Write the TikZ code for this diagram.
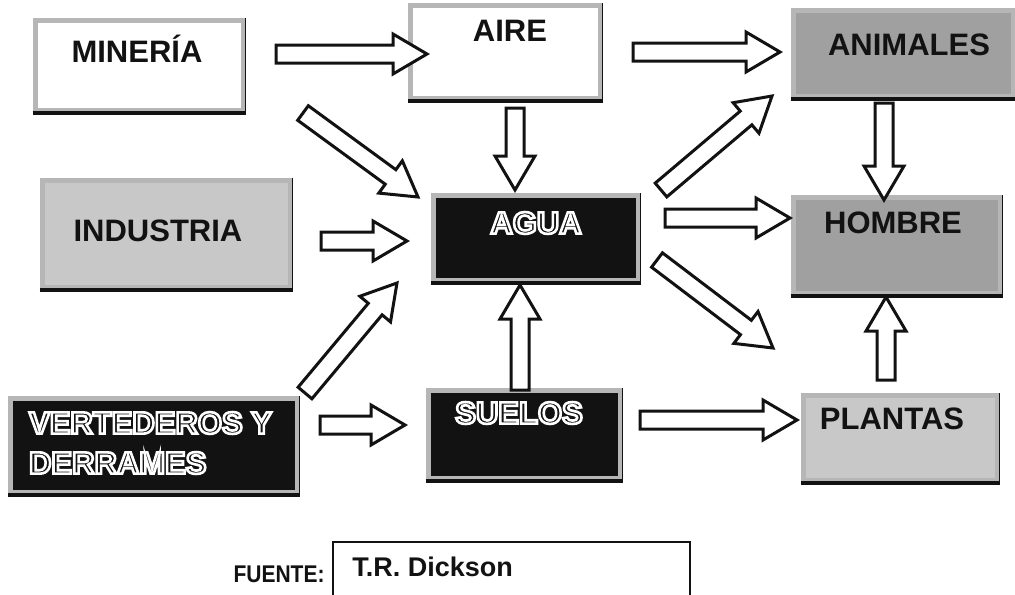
\documentclass[tikz,border=0pt]{standalone}
\usepackage{fontspec}
\setmainfont{Liberation Sans}
\usetikzlibrary{calc,fit}
\definecolor{rim}{RGB}{182,182,182}
\definecolor{gmed}{RGB}{160,160,160}
\definecolor{glight}{RGB}{200,200,200}
\definecolor{ink}{RGB}{18,18,18}

% hollow letters: black fill, white outline
\newcommand{\hueco}[1]{\special{pdf:literal q 2 Tr 1.3 w 1 G}#1\special{pdf:literal Q}}

% block arrow from a tail coordinate to a tip coordinate
\newcommand{\flecha}[2]{%
  \coordinate (hb) at ($(#2)!\largoP!(#1)$);
  \draw[flechaB] ($(#1)!\anchoC!90:(#2)$) -- ($(hb)!\anchoC!-90:(#1)$)
    -- ($(hb)!\anchoP!-90:(#1)$) -- (#2) -- ($(hb)!\anchoP!90:(#1)$)
    -- ($(hb)!\anchoC!90:(#1)$) -- ($(#1)!\anchoC!-90:(#2)$) -- cycle;}

\begin{document}
\begin{tikzpicture}[x=0.5pt, y=-0.5pt,
    caja/.style={rectangle, draw=rim, line width=2.5pt, inner sep=0pt},
    sombra/.style={draw=ink, line width=2pt},
    rot/.style={font=\fontsize{15.5}{20}\selectfont\bfseries, text=ink},
    rotB/.style={font=\fontsize{15.5}{20}\selectfont\bfseries, text=ink},
    flechaB/.style={draw=ink, fill=white, line width=1.5pt, line join=miter},
    marco/.style={rectangle, draw=ink, line width=0.8pt, inner sep=0pt}]
  \def\anchoC{4.5pt}
  \def\anchoP{10pt}
  \def\largoP{17pt}
  \useasboundingbox (0,0) rectangle (1015,594);

  % ---------- boxes ---------------------------------------------------------
  \foreach \n/\xa/\ya/\xb/\yb/\c in {min/35/20/243/110/white, aire/410/5/600/98/white,
      ani/793/10/1013/96/gmed, ind/42/180/290/287/glight, agua/433/195/638/280/ink,
      hom/793/197/1000/293/gmed, ver/10/398/297/492/ink, sue/428/390/620/478/ink,
      pla/803/395/997/480/glight}
    { \node[caja, fill=\c, fit={(\xa,\ya) (\xb,\yb)}] (\n) {};
      \draw[sombra] (\n.south west) -- (\n.south east);
      \draw[ink, line width=0.8pt] (\n.south east) -- (\n.north east); }

  \node[rot] (minT) at (137,49) {MINERÍA};
  \node[rot] (aireT) at (510,31) {AIRE};
  \node[rot] (aniT) at (909,45) {ANIMALES};
  \node[rot] (indT) at (158,231) {INDUSTRIA};
  \node[rot] (homT) at (893,223) {HOMBRE};
  \node[rot] (plaT) at (892,419) {PLANTAS};
  \node[rotB] (aguaT) at (536,223) {\hueco{AGUA}};
  \node[rotB] (sueT) at (519,413) {\hueco{SUELOS}};
  \node[rotB, anchor=west] (verT) at (22,423) {\hueco{VERTEDEROS Y}};
  \node[rotB, anchor=west] (derT) at (22,463) {\hueco{DERRAMES}};

  % ---------- arrows --------------------------------------------------------
  \foreach \n/\x/\y in {ma0/276/54, ma1/427/54, an0/633/52, an1/780/52,
      ag0/515/108, ag1/515/190, mg0/303/113, mg1/418/197, ig0/321/241, ig1/407/241,
      vg0/305/393, vg1/397/283, vs0/320/425, vs1/405/425, sg0/520/390, sg1/520/285,
      gn0/661/190, gn1/772/96, gh0/665/218, gh1/790/218, gp0/657/260, gp1/773/348,
      sp0/640/420, sp1/797/420, nh0/884/103, nh1/884/200, ph0/886/380, ph1/886/297}
    { \coordinate (\n) at (\x,\y); }
  \foreach \a in {ma,an,ag,mg,ig,vg,vs,sg,gn,gh,gp,sp,nh,ph}
    { \flecha{\a0}{\a1} }

  % ---------- source --------------------------------------------------------
  \node[marco, fit={(333,542) (690,620)}] (fuenteB) {};
  \node[font=\fontsize{10.5}{12}\selectfont\bfseries, text=ink, yscale=1.15]
    (fuente) at (279,574) {FUENTE:};
  \node[font=\fontsize{13.5}{15}\selectfont\bfseries, text=ink, anchor=west, inner sep=0pt]
    (autor) at (352,567) {T.R. Dickson};
\end{tikzpicture}
\end{document}
